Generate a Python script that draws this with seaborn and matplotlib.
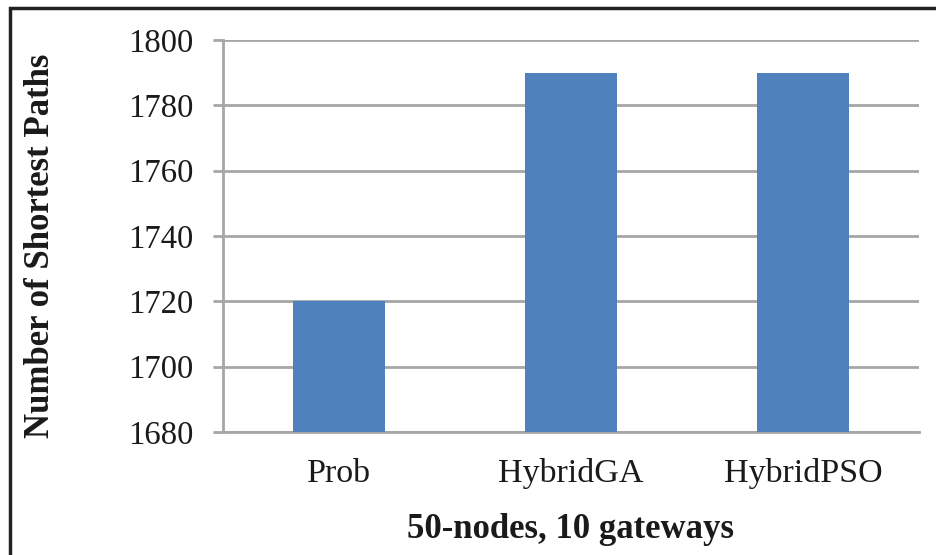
import matplotlib
matplotlib.use("Agg")
import matplotlib.pyplot as plt
import seaborn as sns
import pandas as pd
from matplotlib.patches import Rectangle

categories = ["Prob", "HybridGA", "HybridPSO"]
values = [1720, 1790, 1790]
yticks = [1680, 1700, 1720, 1740, 1760, 1780, 1800]

sns.set_theme(style="white")
plt.rcParams['font.family'] = ['Liberation Serif', 'DejaVu Serif']

df = pd.DataFrame({"cat": categories, "val": values})

fig = plt.figure(figsize=(9.37, 5.55), dpi=100)
ax = fig.add_axes([223/937, 1-432/555, (919-223)/937, (432-40)/555])

grid_c = "#a6a6a6"
sns.barplot(data=df, x="cat", y="val", color="#4F81BD", saturation=1,
            width=0.4, ax=ax, zorder=3, linewidth=0, edgecolor="none")
ax.set_ylim(1680, 1800)
ax.set_yticks(yticks)
ax.set_yticklabels([str(t) for t in yticks])
ax.set_xlim(-0.5, 2.5)
ax.yaxis.grid(True, color=grid_c, linewidth=2, zorder=0)
ax.set_axisbelow(True)
for s in ["top", "right"]:
    ax.spines[s].set_visible(False)
for s in ["left", "bottom"]:
    ax.spines[s].set_color(grid_c)
    ax.spines[s].set_linewidth(2)
ax.tick_params(axis="y", which="major", length=7.5, width=2, color=grid_c,
               labelsize=23.5, pad=14, labelcolor="#1a1a1a", left=True)
ax.tick_params(axis="x", length=0, labelsize=24.5, pad=19, labelcolor="#1a1a1a")
ax.set_xlabel("")
ax.set_ylabel("")

fig.text(41/937, 1-246/555, "Number of Shortest Paths", rotation=90,
         ha="center", va="center", fontsize=25, fontweight="bold", color="#1a1a1a")
fig.text(571/937, (555-538)/555, "50-nodes, 10 gateways",
         ha="center", va="baseline", fontsize=25, fontweight="bold", color="#1a1a1a")

fig.patches.append(Rectangle((10/937, -0.1), 1.2, 1 - 8/555 + 0.1, transform=fig.transFigure,
                             fill=False, edgecolor="#222222", linewidth=2.5, zorder=10))

fig.savefig("out.png", dpi=100)
